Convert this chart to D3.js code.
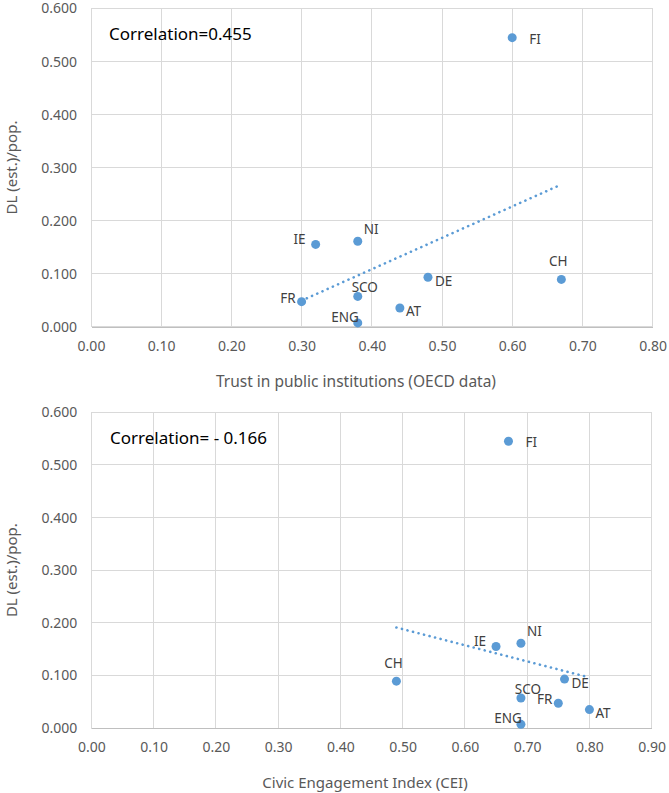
<!DOCTYPE html>
<html>
<head>
<meta charset="utf-8">
<script src="https://cdn.jsdelivr.net/npm/d3@7"></script>
<style>
  html, body { margin: 0; padding: 0; background: #fff; }
  svg { display: block; font-family: "Noto Sans", sans-serif; }
</style>
</head>
<body>
<svg id="chart" width="669" height="793"></svg>
<script>
// ---- data ----
const countries = ["FI", "IE", "FR", "NI", "SCO", "ENG", "AT", "DE", "CH"];
const dlPerPop  = [0.545, 0.155, 0.047, 0.161, 0.057, 0.007, 0.035, 0.093, 0.089];
const trustOECD = [0.60, 0.32, 0.30, 0.38, 0.38, 0.38, 0.44, 0.48, 0.67];
const cei       = [0.67, 0.65, 0.75, 0.69, 0.69, 0.69, 0.80, 0.76, 0.49];
const trend1X = [0.30, 0.67];
const trend1Y = [0.049, 0.268];
const trend2X = [0.49, 0.80];
const trend2Y = [0.191, 0.096];
const yTicks  = [0, 0.1, 0.2, 0.3, 0.4, 0.5, 0.6];
const xTicks1 = [0, 0.1, 0.2, 0.3, 0.4, 0.5, 0.6, 0.7, 0.8];
const xTicks2 = [0, 0.1, 0.2, 0.3, 0.4, 0.5, 0.6, 0.7, 0.8, 0.9];
const titles1 = { x: "Trust in public institutions (OECD data)", y: "DL (est.)/pop.", note: "Correlation=0.455" };
const titles2 = { x: "Civic Engagement Index (CEI)", y: "DL (est.)/pop.", note: "Correlation= - 0.166" };

// label placement (anchor, dx, dy) per country
const labelPlace = {
  FI:  ["start", 17, 1],
  IE:  ["end", -10, -5],
  FR:  ["end", -6, -4],
  NI:  ["start", 6, -12],
  SCO: ["middle", 7, -9],
  ENG: ["end", 1, -6],
  AT:  ["start", 6, 3],
  DE:  ["start", 7, 4],
  CH:  ["middle", -3, -18]
};

const svg = d3.select("#chart");
const blue = "#5b9bd5";
const grid = "#d9d9d9";
const txt = "#595959";

function drawChart(cfg) {
  const g = svg.append("g");
  const x = d3.scaleLinear().domain([0, cfg.xMax]).range([cfg.left, cfg.right]);
  const y = d3.scaleLinear().domain([0, 0.6]).range([cfg.bottom, cfg.top]);

  // gridlines
  g.append("g").selectAll("line").data(yTicks).join("line")
    .attr("x1", cfg.left).attr("x2", cfg.right)
    .attr("y1", d => y(d)).attr("y2", d => y(d))
    .attr("stroke", grid).attr("stroke-width", 1).attr("shape-rendering", "crispEdges");
  g.append("g").selectAll("line").data(cfg.xTicks).join("line")
    .attr("x1", d => x(d)).attr("x2", d => x(d))
    .attr("y1", cfg.top).attr("y2", cfg.bottom)
    .attr("stroke", grid).attr("stroke-width", 1).attr("shape-rendering", "crispEdges");

  // y axis
  const yAxis = g.append("g").attr("transform", `translate(${cfg.left},0)`)
    .call(d3.axisLeft(y).tickValues(yTicks).tickFormat(d3.format(".3f")).tickSize(0).tickPadding(14));
  yAxis.select(".domain").remove();
  yAxis.selectAll("text").attr("fill", txt).style("font-size", "14px").attr("font-family", "Noto Sans");

  // x axis
  const xAxis = g.append("g").attr("transform", `translate(0,${cfg.bottom})`)
    .call(d3.axisBottom(x).tickValues(cfg.xTicks).tickFormat(d3.format(".2f")).tickSize(0).tickPadding(14));
  xAxis.select(".domain").attr("stroke", "#bfbfbf").attr("shape-rendering", "crispEdges");
  xAxis.selectAll("text").attr("fill", txt).style("font-size", "14px").attr("font-family", "Noto Sans");

  // axis titles
  g.append("text").attr("x", cfg.xTitleX).attr("y", cfg.xTitleY)
    .attr("text-anchor", "middle").attr("dominant-baseline", "central")
    .attr("fill", txt).style("font-size", cfg.xTitleSize).text(cfg.titles.x);
  g.append("text")
    .attr("transform", `translate(${cfg.yTitleX},${(cfg.top + cfg.bottom) / 2}) rotate(-90)`)
    .attr("text-anchor", "middle").attr("dominant-baseline", "central")
    .attr("fill", txt).style("font-size", "15px").text(cfg.titles.y);

  // correlation note
  g.append("text").attr("x", cfg.noteX).attr("y", cfg.noteY)
    .attr("dominant-baseline", "central").attr("fill", "#000").style("font-size", "17px").text(cfg.titles.note);

  // trendline
  const trendPts = cfg.trendX.map((v, i) => [v, cfg.trendY[i]]);
  g.append("path")
    .attr("d", d3.line().x(d => x(d[0])).y(d => y(d[1]))(trendPts))
    .attr("fill", "none").attr("stroke", blue).attr("stroke-width", 2.6)
    .attr("stroke-linecap", "round").attr("stroke-dasharray", "0.1 5.6");

  // points
  const pts = countries.map((c, i) => ({ c, xv: cfg.xs[i], yv: dlPerPop[i] }));
  g.append("g").selectAll("circle").data(pts).join("circle")
    .attr("cx", d => x(d.xv)).attr("cy", d => y(d.yv)).attr("r", 4.5).attr("fill", blue);

  // labels
  g.append("g").selectAll("text").data(pts).join("text")
    .attr("x", d => x(d.xv) + labelPlace[d.c][1])
    .attr("y", d => y(d.yv) + labelPlace[d.c][2])
    .attr("text-anchor", d => labelPlace[d.c][0])
    .attr("dominant-baseline", "central")
    .attr("fill", "#404040").style("font-size", "13.5px").text(d => d.c);
}

drawChart({
  xs: trustOECD, xMax: 0.8, xTicks: xTicks1, titles: titles1,
  left: 91, right: 652.6, top: 8.5, bottom: 326.6,
  trendX: trend1X, trendY: trend1Y,
  xTitleX: 356, xTitleY: 380.5, xTitleSize: "15.5px", yTitleX: 11, noteX: 109, noteY: 33
});
drawChart({
  xs: cei, xMax: 0.9, xTicks: xTicks2, titles: titles2,
  left: 91.3, right: 651.7, top: 412.3, bottom: 728,
  trendX: trend2X, trendY: trend2Y,
  xTitleX: 365, xTitleY: 781.5, xTitleSize: "15px", yTitleX: 11, noteX: 110, noteY: 437
});
</script>
</body>
</html>
